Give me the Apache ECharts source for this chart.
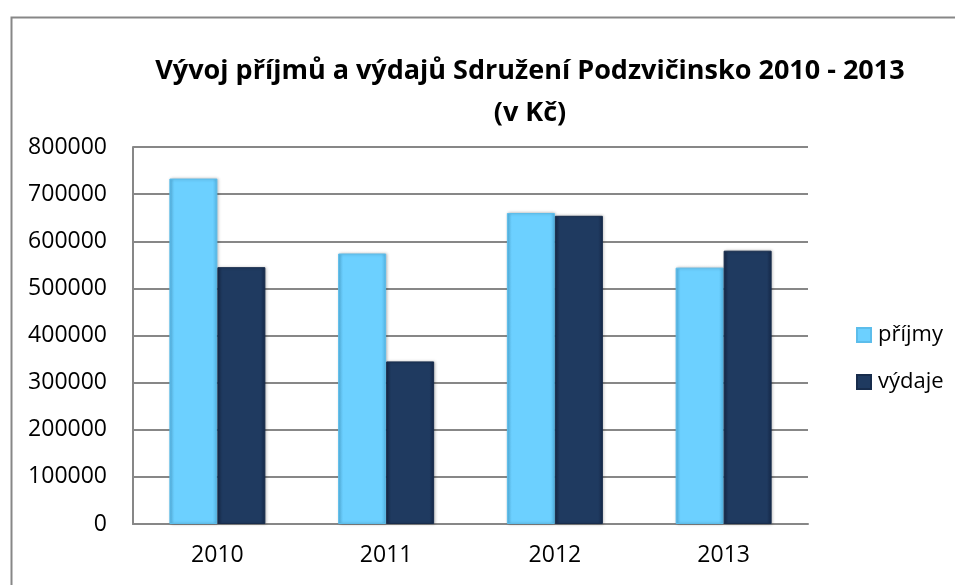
<!DOCTYPE html>
<html>
<head>
<meta charset="utf-8">
<script src="https://cdn.jsdelivr.net/npm/echarts@6/dist/echarts.min.js"></script>
<style>
  html, body { margin: 0; padding: 0; background: #fff; }
  #chart { width: 955px; height: 585px; }
</style>
</head>
<body>
<div id="chart"></div>
<script>
// data
const years = ['2010', '2011', '2012', '2013'];
const prijmy = [733000, 574000, 660000, 544000];
const vydaje = [545000, 345000, 654000, 580000];
const seriesNames = ['příjmy', 'výdaje'];

const chart = echarts.init(document.getElementById('chart'));

const font = "'Open Sans', 'DejaVu Sans', sans-serif";

// slight darker edges to hint at the bevel of the original bars
function bevel(base, dark) {
  return new echarts.graphic.LinearGradient(0, 0, 1, 0, [
    { offset: 0, color: dark },
    { offset: 0.1, color: base },
    { offset: 0.9, color: base },
    { offset: 1, color: dark }
  ]);
}

chart.setOption({
  backgroundColor: '#fff',
  animation: false,
  graphic: [{
    type: 'rect',
    left: 9, top: 15,
    shape: { width: 960, height: 600 },
    style: { fill: 'none', stroke: '#878787', lineWidth: 2 }
  }],
  title: {
    text: 'Vývoj příjmů a výdajů Sdružení Podzvičinsko 2010 - 2013\n(v Kč)',
    left: 525,
    top: 45,
    textAlign: 'center',
    textStyle: {
      fontFamily: font,
      fontSize: 27,
      fontWeight: 'bold',
      color: '#000',
      lineHeight: 42
    }
  },
  legend: {
    orient: 'vertical',
    left: 851,
    top: 319,
    itemWidth: 14,
    itemHeight: 14,
    itemGap: 25,
    icon: 'rect',
    textStyle: { fontFamily: font, fontSize: 22, color: '#000', padding: [0, 0, 0, 2] },
    data: seriesNames
  },
  grid: {
    left: 133,
    right: 147,
    top: 147,
    bottom: 61
  },
  xAxis: {
    type: 'category',
    data: years,
    axisLine: { lineStyle: { color: '#878787', width: 2 } },
    axisTick: { show: false },
    axisLabel: { fontFamily: font, fontSize: 23, color: '#000', margin: 20 }
  },
  yAxis: {
    type: 'value',
    min: 0,
    max: 800000,
    interval: 100000,
    axisLine: { show: true, lineStyle: { color: '#878787', width: 2 } },
    axisTick: { show: false },
    axisLabel: {
      fontFamily: font, fontSize: 23, color: '#000', margin: 26,
      formatter: v => String(v)
    },
    splitLine: { lineStyle: { color: '#878787', width: 2 } }
  },
  series: [{
    name: seriesNames[0],
    type: 'bar',
    data: prijmy,
    barWidth: 48,
    barGap: '0%',
    itemStyle: {
      color: bevel('#6CD0FF', '#55B6E6'),
      borderColor: '#5CBDEB',
      borderWidth: 1,
      shadowColor: 'rgba(0,0,0,0.25)',
      shadowBlur: 3,
      shadowOffsetX: 1
    }
  }, {
    name: seriesNames[1],
    type: 'bar',
    data: vydaje,
    barWidth: 48,
    barGap: '0%',
    itemStyle: {
      color: bevel('#1F3A60', '#16294A'),
      borderColor: '#172C4C',
      borderWidth: 1,
      shadowColor: 'rgba(0,0,0,0.25)',
      shadowBlur: 3,
      shadowOffsetX: 1
    }
  }]
});
</script>
</body>
</html>
